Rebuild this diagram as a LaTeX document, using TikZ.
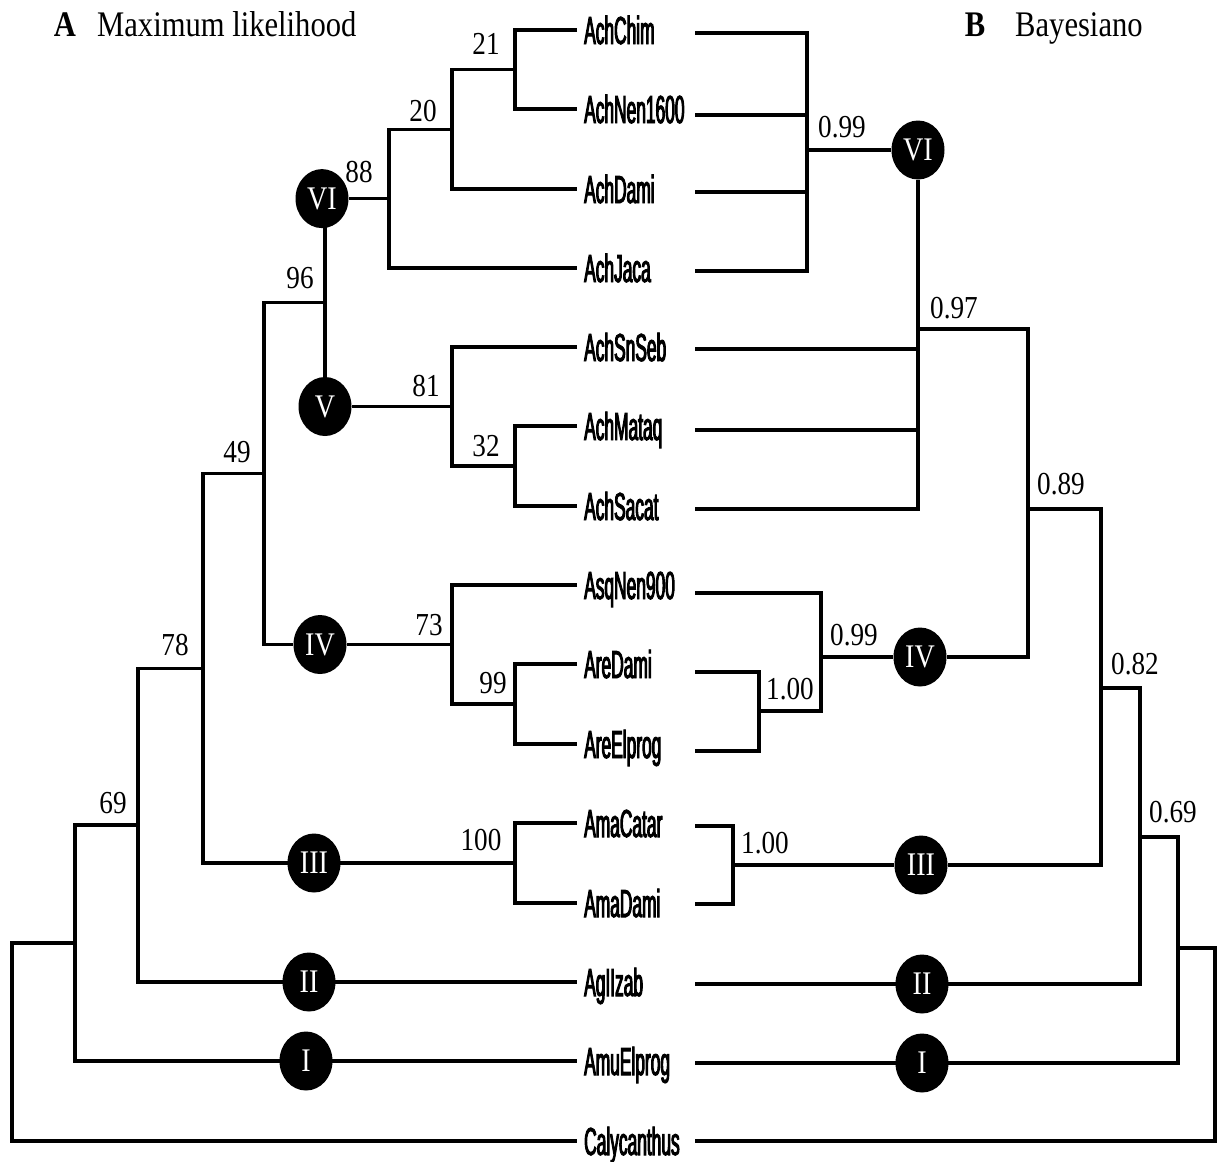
\documentclass[tikz,border=0pt]{standalone}
\usepackage{fontspec}
\usetikzlibrary{shapes.geometric,backgrounds}
\newfontfamily\numfont[FakeStretch=0.85]{Liberation Serif}
\newfontfamily\taxfont[FakeStretch=0.445,FakeBold=2.5]{Liberation Sans}

\tikzset{
  br/.style={line width=3.6pt, line join=miter, line cap=butt},
  tax/.style={anchor=west, inner xsep=7pt, inner ysep=0pt, text height=28pt, text depth=0pt,
              font=\taxfont\fontsize{39}{41}\selectfont},
  clade/.style={ellipse, fill=black, minimum width=53pt, minimum height=59pt, inner sep=0pt,
              text=white, font=\numfont\fontsize{33}{35}\selectfont},
  sup/.style={inner sep=0pt, font=\numfont\fontsize{32}{34}\selectfont},
  ttl/.style={inner sep=0pt, anchor=base west, font=\numfont\fontsize{36}{40}\selectfont},
}

\begin{document}
\begin{tikzpicture}[x=1pt, y=-1pt]
\useasboundingbox (0,0) rectangle (1221,1162);

% panel titles
\node[ttl, anchor=base] (tA) at (65,36) {\bfseries A};
\node[ttl] (tAtxt) at (97,36) {Maximum likelihood};
\node[ttl, anchor=base] (tB) at (975,36) {\bfseries B};
\node[ttl] (tBtxt) at (1015,36) {Bayesiano};

% taxa (left tree ends on the west anchors)
\node[tax] (AchChim)     at (577,30)   {AchChim};
\node[tax] (AchNen1600)  at (577,109)  {AchNen1600};
\node[tax] (AchDami)     at (577,189)  {AchDami};
\node[tax] (AchJaca)     at (577,268)  {AchJaca};
\node[tax] (AchSnSeb)    at (577,347)  {AchSnSeb};
\node[tax] (AchMataq)    at (577,426)  {AchMataq};
\node[tax] (AchSacat)    at (577,506)  {AchSacat};
\node[tax] (AsqNen900)   at (577,585)  {AsqNen900};
\node[tax] (AreDami)     at (577,664)  {AreDami};
\node[tax] (AreElprog)   at (577,744)  {AreElprog};
\node[tax] (AmaCatar)    at (577,823)  {AmaCatar};
\node[tax] (AmaDami)     at (577,903)  {AmaDami};
\node[tax] (AgIIzab)     at (577,982)  {AgIIzab};
\node[tax] (AmuElprog)   at (577,1061) {AmuElprog};
\node[tax] (Calycanthus) at (577,1141) {Calycanthus};

% right-hand leaf starts
\coordinate (R-AchChim)     at (695,33);
\coordinate (R-AchNen1600)  at (695,115);
\coordinate (R-AchDami)     at (695,192);
\coordinate (R-AchJaca)     at (695,271);
\coordinate (R-AchSnSeb)    at (695,349);
\coordinate (R-AchMataq)    at (695,430);
\coordinate (R-AchSacat)    at (695,509);
\coordinate (R-AsqNen900)   at (695,593);
\coordinate (R-AreDami)     at (695,672);
\coordinate (R-AreElprog)   at (695,751);
\coordinate (R-AmaCatar)    at (695,826);
\coordinate (R-AmaDami)     at (695,904);
\coordinate (R-AgIIzab)     at (695,984);
\coordinate (R-AmuElprog)   at (695,1063);
\coordinate (R-Calycanthus) at (695,1141);

% ---- maximum likelihood tree: internal nodes
\coordinate (n21)  at (515,69.5);
\coordinate (n20)  at (452,129.3);
\coordinate (n88)  at (389,198.6);
\coordinate (n32)  at (515,466);
\coordinate (n81)  at (452,406.5);
\coordinate (n96)  at (325,302.6);
\coordinate (n99)  at (515,704);
\coordinate (n73)  at (452,644.5);
\coordinate (n100) at (515,863);
\coordinate (n49)  at (264,473.5);
\coordinate (n78)  at (203,668.3);
\coordinate (n69)  at (138,825.1);
\coordinate (n0)   at (75,943);
\coordinate (nroot) at (12,1042);

\node[clade] (VIL)  at (322,198.6) {VI};
\node[clade] (VL)   at (325,406.5) {V};
\node[clade] (IVL)  at (320,644.5) {IV};
\node[clade] (IIIL) at (314,863)   {III};
\node[clade] (IIL)  at (309,982)   {II};
\node[clade] (IL)   at (306,1061)  {I};

% ---- Bayesian tree: internal nodes
\coordinate (m1) at (807,150);
\coordinate (m2) at (918,329);
\coordinate (m3) at (1028,509);
\coordinate (m4) at (821,657);
\coordinate (m5) at (759,711);
\coordinate (m6) at (1101,509);
\coordinate (m7) at (733,865);
\coordinate (m8) at (1140,688);
\coordinate (m9) at (1178,837);
\coordinate (mr) at (1215,948);

\node[clade] (VIR)  at (918,150)  {VI};
\node[clade] (IVR)  at (920,657)  {IV};
\node[clade] (IIIR) at (921,865)  {III};
\node[clade] (IIR)  at (922,984)  {II};
\node[clade] (IR)   at (922,1063) {I};

\begin{scope}[on background layer]
  \fill[white] (0,0) rectangle (1221,1162);
  % left tree
  \draw[br] (AchChim.west) -| (n21) |- (AchNen1600.west);
  \draw[br] (n21) -| (n20) |- (AchDami.west);
  \draw[br] (n20) -| (n88) |- (AchJaca.west);
  \draw[br] (n88) -- (VIL);
  \draw[br] (AchMataq.west) -| (n32) |- (AchSacat.west);
  \draw[br] (AchSnSeb.west) -| (n81) |- (n32);
  \draw[br] (n81) -- (VL);
  \draw[br] (n96 |- VIL) -- (n96 |- VL);
  \draw[br] (AreDami.west) -| (n99) |- (AreElprog.west);
  \draw[br] (AsqNen900.west) -| (n73) |- (n99);
  \draw[br] (n73) -- (IVL);
  \draw[br] (AmaCatar.west) -| (n100) |- (AmaDami.west);
  \draw[br] (n96) -| (n49) |- (IVL);
  \draw[br] (n49) -| (n78) |- (n100);
  \draw[br] (n78) -| (n69) |- (AgIIzab.west);
  \draw[br] (n69) -| (n0) |- (AmuElprog.west);
  \draw[br] (n0) -| (nroot) |- (Calycanthus.west);
  % right tree
  \draw[br] (R-AchChim) -| (m1) |- (R-AchJaca);
  \draw[br] (R-AchNen1600) -| (m1);
  \draw[br] (R-AchDami) -| (m1);
  \draw[br] (m1) -- (VIR);
  \draw[br] (VIR) |- (R-AchSacat);
  \draw[br] (R-AchSnSeb) -| (m2);
  \draw[br] (R-AchMataq) -| (m2);
  \draw[br] (m2) -| (m3) |- (IVR);
  \draw[br] (R-AreDami) -| (m5) |- (R-AreElprog);
  \draw[br] (R-AsqNen900) -| (m4) |- (m5);
  \draw[br] (m4) -- (IVR);
  \draw[br] (R-AmaCatar) -| (m7) |- (R-AmaDami);
  \draw[br] (m7) -- (IIIR);
  \draw[br] (m3) -- (m6) |- (IIIR);
  \draw[br] (m8 -| m6) -- (m8) |- (R-AgIIzab);
  \draw[br] (m9 -| m8) -- (m9) |- (R-AmuElprog);
  \draw[br] (mr -| m9) -- (mr) |- (R-Calycanthus);
\end{scope}

% support values, maximum likelihood
\node[sup] (s21)  at (486,44)  {21};
\node[sup] (s20)  at (423,111) {20};
\node[sup] (s88)  at (359,172) {88};
\node[sup] (s96)  at (300,278) {96};
\node[sup] (s81)  at (426,386) {81};
\node[sup] (s32)  at (486,446) {32};
\node[sup] (s73)  at (429,625) {73};
\node[sup] (s99)  at (493,683) {99};
\node[sup] (s100) at (481,840) {100};
\node[sup] (s49)  at (237,452) {49};
\node[sup] (s78)  at (175,645) {78};
\node[sup] (s69)  at (113,803) {69};

% posterior probabilities, Bayesian
\node[sup] (p1) at (842,127)  {0.99};
\node[sup] (p2) at (954,308)  {0.97};
\node[sup] (p3) at (1061,484) {0.89};
\node[sup] (p4) at (854,635)  {0.99};
\node[sup] (p5) at (790,689)  {1.00};
\node[sup] (p6) at (765,843)  {1.00};
\node[sup] (p7) at (1135,664) {0.82};
\node[sup] (p8) at (1173,812) {0.69};
\end{tikzpicture}
\end{document}
